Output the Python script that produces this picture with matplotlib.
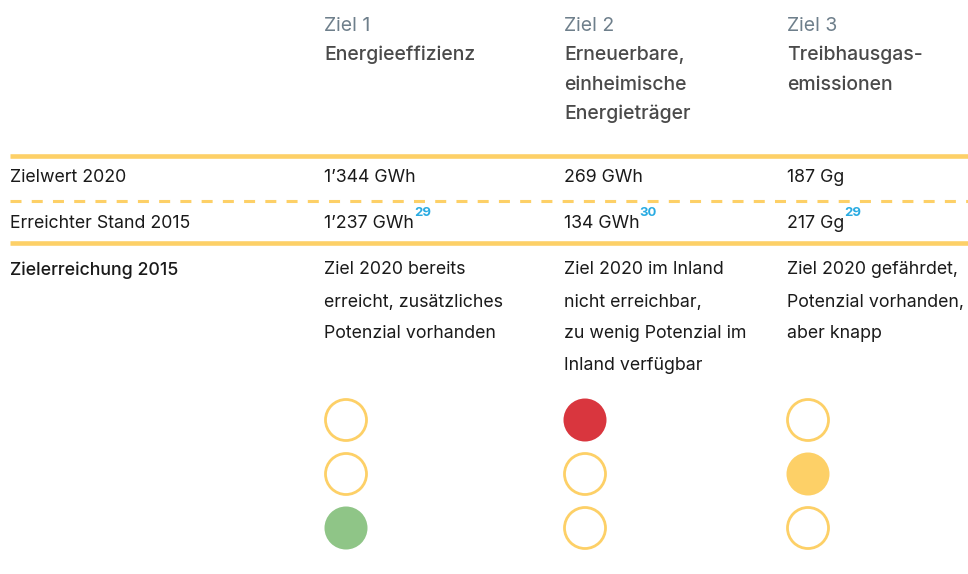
import matplotlib.pyplot as plt
from matplotlib.patches import Circle

plt.rcParams['font.family'] = ['Inter', 'DejaVu Sans']

# table content
goal_labels = ["Ziel 1", "Ziel 2", "Ziel 3"]
goal_titles = [["Energieeffizienz"],
               ["Erneuerbare,", "einheimische", "Energieträger"],
               ["Treibhausgas-", "emissionen"]]
row_labels = ["Zielwert 2020", "Erreichter Stand 2015", "Zielerreichung 2015"]
target_2020 = ["1’344 GWh", "269 GWh", "187 Gg"]
status_2015 = ["1’237 GWh", "134 GWh", "217 Gg"]
footnotes = ["29", "30", "29"]
assessment = [["Ziel 2020 bereits", "erreicht, zusätzliches", "Potenzial vorhanden"],
              ["Ziel 2020 im Inland", "nicht erreichbar,", "zu wenig Potenzial im",
               "Inland verfügbar"],
              ["Ziel 2020 gefährdet,", "Potenzial vorhanden,", "aber knapp"]]
# traffic light: which lamp is lit (0 = top, 1 = middle, 2 = bottom)
lit_lamp = [2, 0, 1]

YELLOW = "#fdd067"
LAMP_COLORS = ["#d9363e", "#fdd067", "#8fc587"]
TEXT = "#1a1a1a"
GREY = "#6e7f8b"
TITLE = "#4a4a4a"
BLUE = "#29abe2"

fig = plt.figure(figsize=(9.68, 5.74), dpi=100)
ax = fig.add_axes([0, 0, 1, 1])
ax.set_xlim(0, 968)
ax.set_ylim(574, 0)
ax.axis("off")

col_x = [324, 564, 787]
lamp_x = [346, 585, 808]
fs = 12.8
hfs = 14

# header
for x, lab, lines in zip(col_x, goal_labels, goal_titles):
    ax.text(x, 26, lab, color=GREY, fontsize=hfs, va="center", ha="left")
    for k, line in enumerate(lines):
        ax.text(x, 55 + k * 29.5, line, color=TITLE, fontsize=hfs,
                fontweight="medium", va="center", ha="left")

# rules
ax.plot([10, 968], [156, 156], color=YELLOW, lw=3.3, solid_capstyle="butt")
ax.plot([10, 968], [201, 201], color=YELLOW, lw=2.2, ls=(0, (3.6, 3.35)))
ax.plot([10, 968], [243, 243], color=YELLOW, lw=3.3, solid_capstyle="butt")

# rows
ax.text(10, 178, row_labels[0], color=TEXT, fontsize=fs, va="center")
ax.text(10, 224, row_labels[1], color=TEXT, fontsize=fs, va="center")
ax.text(10, 270, row_labels[2], color=TEXT, fontsize=fs, fontweight="medium", va="center")

for i, x in enumerate(col_x):
    ax.text(x, 178, target_2020[i], color=TEXT, fontsize=fs, va="center")
    t = ax.text(x, 224, status_2015[i], color=TEXT, fontsize=fs, va="center")
    ax.annotate(footnotes[i], xy=(1, 0.78), xycoords=t, color=BLUE,
                fontsize=9.5, fontweight="bold", va="bottom", ha="left")
    for k, line in enumerate(assessment[i]):
        ax.text(x, 270 + k * 32, line, color=TEXT, fontsize=fs, va="center")

    # traffic light
    for j, y in enumerate([420, 474, 528]):
        if j == lit_lamp[i]:
            ax.add_patch(Circle((lamp_x[i], y), 21.5, facecolor=LAMP_COLORS[j],
                                edgecolor="none"))
        else:
            ax.add_patch(Circle((lamp_x[i], y), 20.5, facecolor="none",
                                edgecolor=YELLOW, lw=2))

fig.savefig("out.png", dpi=100, facecolor="white")
